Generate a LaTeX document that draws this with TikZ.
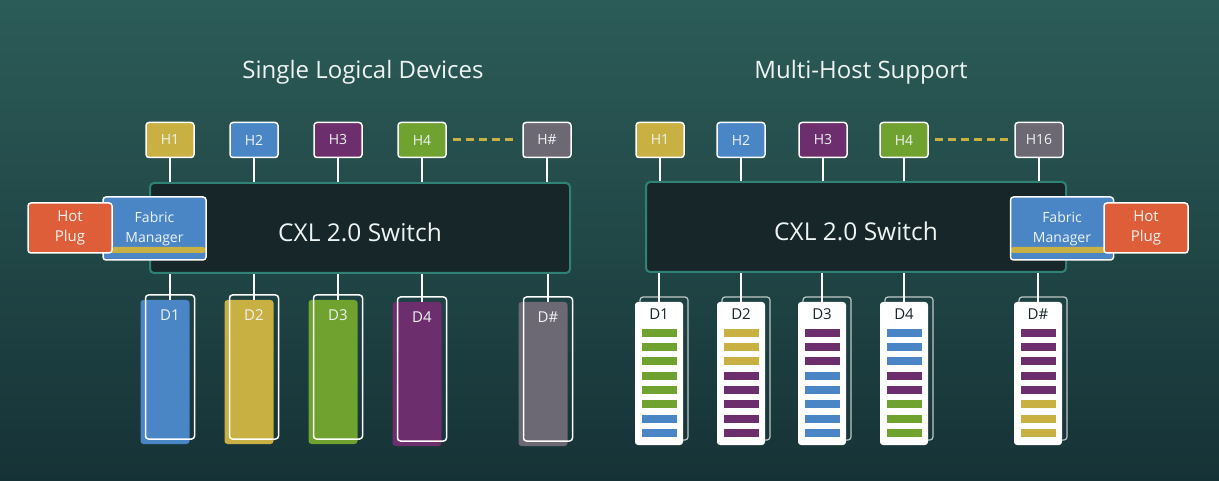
\documentclass[tikz,border=0pt]{standalone}
\usepackage{fontspec}
\setmainfont{Open Sans}
\usetikzlibrary{shadows,calc}

\definecolor{sfondoA}{RGB}{44,92,88}
\definecolor{sfondoB}{RGB}{22,50,54}
\definecolor{giallo}{RGB}{200,176,66}
\definecolor{blu}{RGB}{74,134,198}
\definecolor{viola}{RGB}{108,46,108}
\definecolor{verde}{RGB}{112,162,48}
\definecolor{grigio}{RGB}{108,104,116}
\definecolor{arancio}{RGB}{221,94,56}
\definecolor{scuro}{RGB}{23,38,41}
\definecolor{bordo}{RGB}{48,130,118}
\definecolor{testo}{RGB}{238,244,242}
\definecolor{ombra}{RGB}{190,200,200}

\tikzset{
  titolo/.style={text=testo, font=\fontsize{24}{28}\selectfont},
  host/.style={draw=white, line width=1.5pt, rounded corners=3pt, minimum width=48pt,
    minimum height=35pt, inner sep=0pt, text=testo, font=\fontsize{14}{16}\selectfont},
  cxl/.style={draw=bordo, line width=2pt, fill=scuro, rounded corners=4pt, minimum width=420pt,
    minimum height=90pt, text height=27pt, text depth=0pt, text=testo, font=\fontsize{24.5}{28}\selectfont},
  fabric/.style={draw=white, line width=1.5pt, fill=blu, rounded corners=3pt, minimum width=103pt,
    minimum height=63pt, inner sep=0pt, align=center, text=testo, font=\fontsize{14}{20}\selectfont,
    path picture={\fill[giallo] ([yshift=7pt]path picture bounding box.south west)
      rectangle ([yshift=13pt]path picture bounding box.south east);}},
  hotplug/.style={draw=white, line width=1.5pt, fill=arancio, rounded corners=3pt, minimum width=84pt,
    minimum height=50pt, inner sep=0pt, align=center, text=testo, font=\fontsize{15}{20}\selectfont},
  devA/.style={draw=white, line width=1.5pt, rounded corners=3pt, minimum width=49pt,
    minimum height=144pt, inner sep=0pt,
    general shadow={fill=#1, rounded corners=3pt, shadow xshift=-5pt, shadow yshift=-5pt}},
  devB/.style={fill=white, rounded corners=3pt, minimum width=48pt, minimum height=143pt, inner sep=0pt,
    general shadow={draw=ombra, line width=1.2pt, rounded corners=3pt, shadow xshift=5pt, shadow yshift=5pt}},
  lblA/.style={anchor=north, yshift=-15pt, inner sep=0pt, text=testo, font=\fontsize{15}{17}\selectfont},
  lblB/.style={anchor=north, yshift=-7pt, inner sep=0pt, text=scuro, font=\fontsize{15}{17}\selectfont},
  filo/.style={draw=white, line width=2pt},
  puntini/.style={draw=giallo, line width=3pt, dash pattern=on 8pt off 5pt, shorten <=6pt, shorten >=6pt}
}

\begin{document}
\begin{tikzpicture}[x=1pt, y=-1pt]
    % Sfondo
    \shade[top color=sfondoA, bottom color=sfondoB] (0,0) rectangle (1219,481);
    \useasboundingbox (0,0) rectangle (1219,481);

    % Titoli
    \node[titolo] (tA) at (363,72) {Single Logical Devices};
    \node[titolo] (tB) at (861,72) {Multi-Host Support};

    % Switch
    \node[cxl] (swA) at (360,228) {CXL 2.0 Switch};
    \node[cxl] (swB) at (856,227) {CXL 2.0 Switch};

    % Fabric Manager e Hot Plug
    \node[fabric] (fmA) at (154.5,228.5) {Fabric\\Manager};
    \node[fabric] (fmB) at (1062,228.5) {Fabric\\Manager};
    \node[hotplug] (hpA) at (70,228) {Hot\\Plug};
    \node[hotplug] (hpB) at (1146,228) {Hot\\Plug};

    % Host a sinistra
    \node[host, fill=giallo] (hA1) at (170,140) {H1};
    \node[host, fill=blu] (hA2) at (254,140) {H2};
    \node[host, fill=viola] (hA3) at (338,140) {H3};
    \node[host, fill=verde] (hA4) at (422,140) {H4};
    \node[host, fill=grigio] (hA5) at (547,140) {H\#};
    \draw[puntini] (hA4) -- (hA5);

    % Host a destra
    \node[host, fill=giallo] (hB1) at (660,140) {H1};
    \node[host, fill=blu] (hB2) at (741,140) {H2};
    \node[host, fill=viola] (hB3) at (823,140) {H3};
    \node[host, fill=verde] (hB4) at (904,140) {H4};
    \node[host, fill=grigio] (hB5) at (1039,140) {H16};
    \draw[puntini] (hB4) -- (hB5);

    % Collegamenti host - switch
    \foreach \h in {hA1,hA2,hA3,hA4,hA5} \draw[filo] (\h) -- (\h |- swA.north);
    \foreach \h in {hB1,hB2,hB3,hB4,hB5} \draw[filo] (\h) -- (\h |- swB.north);

    % Dispositivi a sinistra
    \node[devA=blu, label={[lblA]D1}] (dA1) at (170,367) {};
    \node[devA=giallo, label={[lblA]D2}] (dA2) at (254,367) {};
    \node[devA=verde, label={[lblA]D3}] (dA3) at (338,367) {};
    \node[devA=viola, label={[lblA]D4}] (dA4) at (422,369) {};
    \node[devA=grigio, label={[lblA]D\#}] (dA5) at (548,369) {};

    % Dispositivi a destra
    \node[devB, label={[lblB]D1}] (dB1) at (659,373.5) {};
    \node[devB, label={[lblB]D2}] (dB2) at (741,373.5) {};
    \node[devB, label={[lblB]D3}] (dB3) at (822,373.5) {};
    \node[devB, label={[lblB]D4}] (dB4) at (904,373.5) {};
    \node[devB, label={[lblB]D\#}] (dB5) at (1038,373.5) {};

    % Collegamenti switch - dispositivi
    \foreach \d in {dA1,dA2,dA3,dA4,dA5} \draw[filo] (\d |- swA.south) -- ([yshift=-6pt]\d.north);
    \foreach \d in {dB1,dB2,dB3,dB4,dB5} \draw[filo] (\d |- swB.south) -- (\d.north);

    % Strisce di memoria
    \foreach \d/\cc in {dB1/{verde,verde,verde,verde,verde,verde,blu,blu},
                        dB2/{giallo,giallo,giallo,viola,viola,viola,viola,viola},
                        dB3/{viola,viola,viola,blu,blu,blu,blu,blu},
                        dB4/{blu,blu,blu,viola,viola,verde,verde,verde},
                        dB5/{viola,viola,viola,viola,viola,giallo,giallo,giallo}}
      \foreach \c [count=\i from 0] in \cc
        \fill[\c] ($(\d.north)+(-17.5,27+14.3*\i)$) rectangle +(35,8);
\end{tikzpicture}
\end{document}
